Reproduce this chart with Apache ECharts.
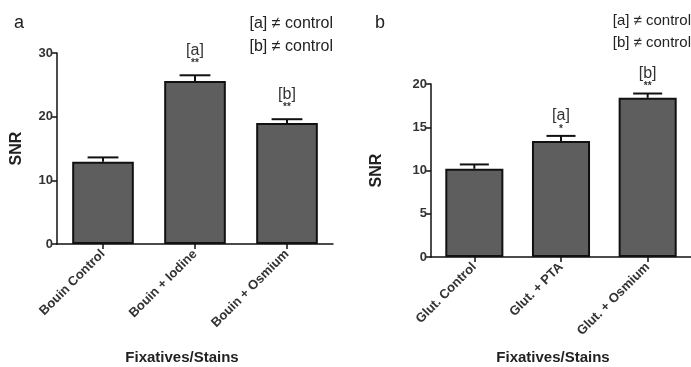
<!DOCTYPE html>
<html>
<head>
<meta charset="utf-8">
<script src="https://cdn.jsdelivr.net/npm/echarts@6/dist/echarts.min.js"></script>
<style>
  html, body { margin: 0; padding: 0; background: #fff; }
  #chart { width: 691px; height: 367px; }
</style>
</head>
<body>
<div id="chart"></div>
<script>
// Panel a: Bouin-fixed samples
const categoriesA = ['Bouin Control', 'Bouin + Iodine', 'Bouin + Osmium'];
const snrA = [12.9, 25.6, 19.0];
const semA = [0.7, 0.9, 0.6];
const tagA = ['', '[a]', '[b]'];
const starsA = ['', '**', '**'];

// Panel b: glutaraldehyde-fixed samples
const categoriesB = ['Glut. Control', 'Glut. + PTA', 'Glut. + Osmium'];
const snrB = [10.2, 13.4, 18.4];
const semB = [0.5, 0.6, 0.5];
const tagB = ['', '[a]', '[b]'];
const starsB = ['', '*', '**'];

const FONT = '"Liberation Sans", Arial, sans-serif';
const BAR_FILL = '#5e5e5e';

function errorRenderer(tags, stars, starGap, tagGap) {
  return function (params, api) {
    const i = api.value(0);
    const v = api.value(1);
    const e = api.value(2);
    const base = api.coord([i, v]);
    const top = api.coord([i, v + e]);
    const band = api.size([1, 0])[0];
    const capHalf = band * 0.67 / 4;
    const lineStyle = { stroke: '#111', lineWidth: 2 };
    const children = [
      { type: 'line', shape: { x1: top[0], y1: base[1], x2: top[0], y2: top[1] }, style: lineStyle },
      { type: 'line', shape: { x1: top[0] - capHalf, y1: top[1], x2: top[0] + capHalf, y2: top[1] }, style: lineStyle }
    ];
    const idx = params.dataIndex;
    if (stars[idx]) {
      children.push({ type: 'text', x: top[0], y: top[1] - starGap,
        style: { text: stars[idx], font: 'bold 10px ' + FONT, fill: '#333', align: 'center', verticalAlign: 'middle' } });
    }
    if (tags[idx]) {
      children.push({ type: 'text', x: top[0], y: top[1] - tagGap,
        style: { text: tags[idx], font: '16px ' + FONT, fill: '#333', align: 'center', verticalAlign: 'middle' } });
    }
    return { type: 'group', children: children };
  };
}

const axisText = { fontFamily: FONT, fontWeight: 'bold', fontSize: 13, color: '#333' };
const axisLine = { show: true, lineStyle: { color: '#111', width: 1.5 } };
const axisTick = { show: true, length: 5, lineStyle: { color: '#111', width: 1.5 } };

function xAxisFor(gridIndex, cats, gap, shift) {
  return {
    type: 'category', gridIndex: gridIndex, data: cats, boundaryGap: true,
    axisLine: axisLine, axisTick: Object.assign({ alignWithLabel: true }, axisTick),
    axisLabel: Object.assign({ rotate: 45, margin: 8, interval: 0 }, axisText),
    name: 'Fixatives/Stains', nameLocation: 'middle', nameGap: gap,
    nameTextStyle: { fontFamily: FONT, fontWeight: 'bold', fontSize: 15, color: '#222', padding: [0, shift, 0, 0] }
  };
}

function yAxisFor(gridIndex, max, interval, gap) {
  return {
    type: 'value', gridIndex: gridIndex, min: 0, max: max, interval: interval,
    axisLine: axisLine, axisTick: axisTick, splitLine: { show: false },
    axisLabel: Object.assign({ margin: 4 }, axisText),
    name: 'SNR', nameLocation: 'middle', nameGap: gap, nameRotate: 90,
    nameTextStyle: { fontFamily: FONT, fontWeight: 'bold', fontSize: 16, color: '#222' }
  };
}

function barSeries(axisIndex, values) {
  return {
    type: 'bar', xAxisIndex: axisIndex, yAxisIndex: axisIndex, data: values, barWidth: '67%',
    itemStyle: { color: BAR_FILL, borderColor: '#111', borderWidth: 2 },
    silent: true, animation: false
  };
}

function errSeries(axisIndex, values, sems, tags, stars, starGap, tagGap) {
  return {
    type: 'custom', xAxisIndex: axisIndex, yAxisIndex: axisIndex,
    data: values.map((v, i) => [i, v, sems[i]]),
    renderItem: errorRenderer(tags, stars, starGap, tagGap),
    encode: { x: 0, y: 1 }, z: 3, silent: true, animation: false
  };
}

const noteStyle = (size) => ({ font: size + 'px ' + FONT, fill: '#222' });

const option = {
  backgroundColor: '#fff',
  animation: false,
  grid: [
    { left: 57, top: 53, width: 276, bottom: 123, containLabel: false, outerBoundsMode: 'none' },
    { left: 431, top: 84, width: 260, bottom: 110, containLabel: false, outerBoundsMode: 'none' }
  ],
  xAxis: [xAxisFor(0, categoriesA, 106, 26), xAxisFor(1, categoriesB, 93, 16)],
  yAxis: [yAxisFor(0, 30, 10, 32), yAxisFor(1, 20, 5, 46)],
  series: [
    barSeries(0, snrA),
    errSeries(0, snrA, semA, tagA, starsA, 12, 25),
    barSeries(1, snrB),
    errSeries(1, snrB, semB, tagB, starsB, 7, 20)
  ],
  graphic: [
    { type: 'text', left: 14, top: 14, style: { text: 'a', font: '18px ' + FONT, fill: '#222' } },
    { type: 'text', right: 358, top: 16, style: Object.assign({ text: '[a] \u2260 control', align: 'right' }, noteStyle(16)) },
    { type: 'text', right: 358, top: 39, style: Object.assign({ text: '[b] \u2260 control', align: 'right' }, noteStyle(16)) },
    { type: 'text', left: 375, top: 14, style: { text: 'b', font: '18px ' + FONT, fill: '#222' } },
    { type: 'text', right: 0, top: 13, style: Object.assign({ text: '[a] \u2260 control', align: 'right' }, noteStyle(15)) },
    { type: 'text', right: 0, top: 35, style: Object.assign({ text: '[b] \u2260 control', align: 'right' }, noteStyle(15)) }
  ]
};

const chart = echarts.init(document.getElementById('chart'), null, { renderer: 'canvas' });
chart.setOption(option);
</script>
</body>
</html>
